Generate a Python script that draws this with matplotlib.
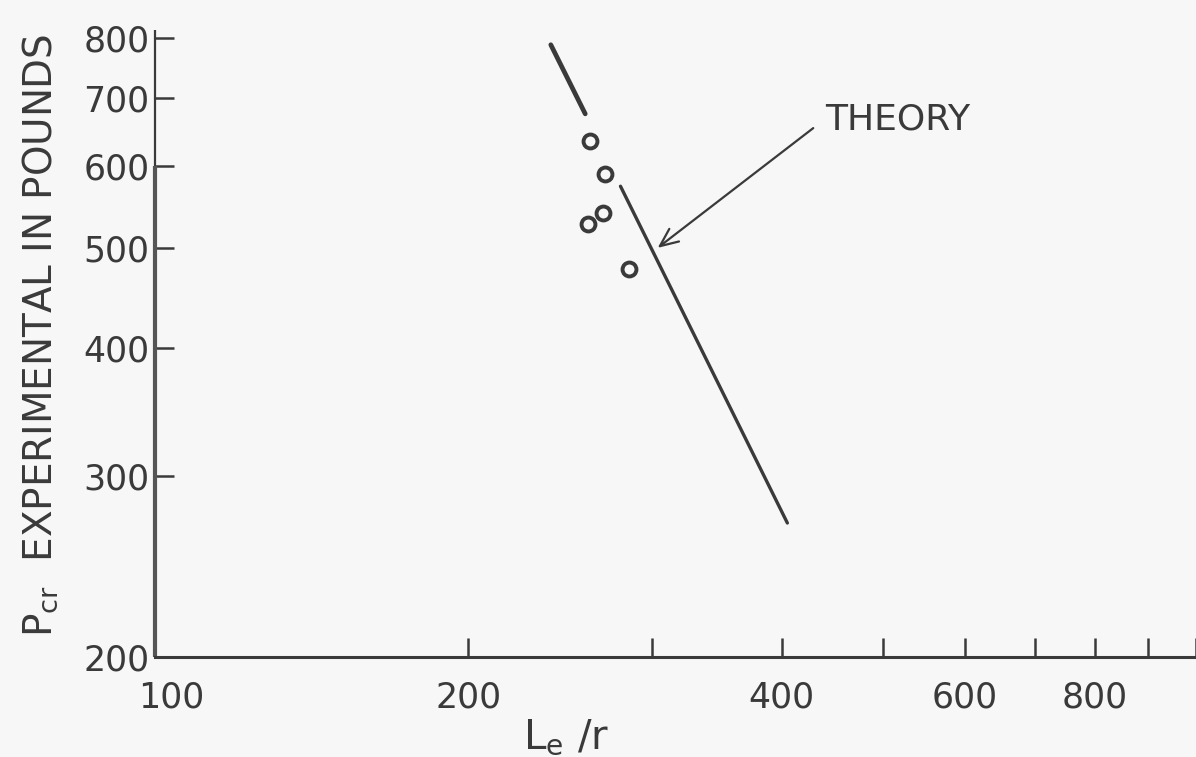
import matplotlib.pyplot as plt
from matplotlib.transforms import ScaledTranslation

# slenderness ratio L_e/r and critical load P_cr (lb)
exp_ratio = [261.7, 270.5, 260.5, 269.3, 285.2]
exp_load = [635, 590, 527, 540, 477]

theory_ratio = [280, 405]
theory_load = [574, 270]

upper_ratio = [240, 259]
upper_load = [788, 675]

# arrow pointing at the theory curve
arrow_at = (304, 500)
label_at = (440, 667)

xticks = [100, 200, 300, 400, 500, 600, 700, 800, 900, 1000]
xtick_labels = ['100', '200', '', '400', '', '600', '', '800', '', '']
yticks = [200, 300, 400, 500, 600, 700, 800]
ytick_labels = ['200', '300', '400', '500', '600', '700', '800']

ink = '#3a3a3a'
paper = '#f7f7f7'

plt.rcParams['mathtext.default'] = 'regular'

fig = plt.figure(figsize=(11.96, 7.57), dpi=100, facecolor=paper)
ax = fig.add_axes([155/1196, 100/757, 1041/1196, 619/757])
ax.set_facecolor(paper)

ax.set_xscale('log')
ax.set_yscale('log')
ax.set_xlim(100, 995)
ax.set_ylim(200, 800)

ax.plot(theory_ratio, theory_load, color=ink, lw=2.4, solid_capstyle='round')
ax.plot(upper_ratio, upper_load, color=ink, lw=3.4, solid_capstyle='round')
ax.plot(exp_ratio, exp_load, linestyle='', marker='o', markersize=10,
        markerfacecolor='none', markeredgecolor=ink, markeredgewidth=2.8)

ax.annotate('THEORY', xy=arrow_at, xytext=label_at, ha='left', va='center',
            fontsize=26, color=ink,
            arrowprops=dict(arrowstyle='->,head_length=0.5,head_width=0.22',
                            color=ink, lw=1.6, relpos=(0, 0.5),
                            shrinkA=8, shrinkB=0))

# axes: bottom spine plus a hand-drawn left axis in two pieces
for side in ['top', 'right', 'left']:
    ax.spines[side].set_visible(False)
ax.spines['bottom'].set_color(ink)
ax.spines['bottom'].set_linewidth(2.2)
ax.plot([100, 100], [200, 600], color='#555555', lw=3.0, clip_on=False,
        solid_capstyle='butt')
ax.plot([100, 100], [600, 815], color=ink, lw=1.6, clip_on=False,
        solid_capstyle='butt')

ax.set_xticks(xticks)
ax.set_xticklabels(xtick_labels)
ax.set_yticks(yticks)
ax.set_yticklabels(ytick_labels)
ax.minorticks_off()
ax.tick_params(axis='x', direction='in', length=14, width=1.8, colors=ink,
               labelsize=25, pad=17)
ax.tick_params(axis='y', direction='in', length=14, width=1.8, colors=ink,
               labelsize=25, pad=4)
ax.yaxis.get_major_ticks()[0].tick1line.set_visible(False)
ax.xaxis.get_major_ticks()[0].tick1line.set_visible(False)

# nudge the "100" label off the corner
first = ax.get_xticklabels()[0]
first.set_transform(first.get_transform() + ScaledTranslation(12/72, 0, fig.dpi_scale_trans))

fig.text(40/1196, 1 - 335/757, 'P$_{cr}$  EXPERIMENTAL IN POUNDS', rotation=90,
         ha='center', va='center', fontsize=28, color=ink)
fig.text(566/1196, 1 - 737/757, 'L$_e$ /r', ha='center', va='center',
         fontsize=29, color=ink)

fig.savefig('out.png', dpi=100, facecolor=paper)
